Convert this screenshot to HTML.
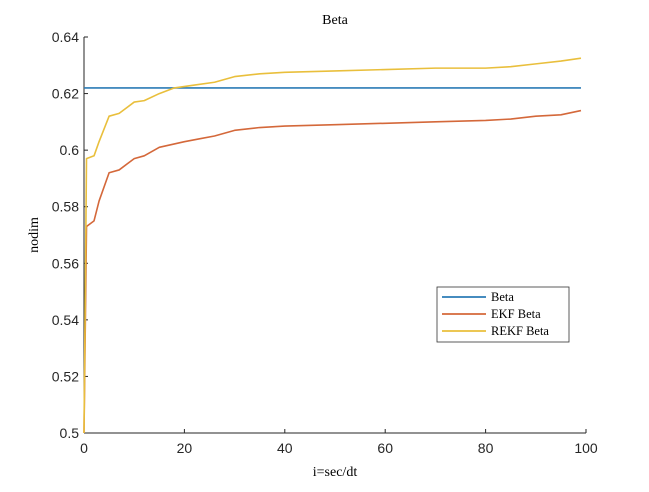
<!DOCTYPE html>
<html><head><meta charset="utf-8"><style>body{margin:0;background:#fff}</style></head>
<body>
<svg id="chart" width="649" height="487" xmlns="http://www.w3.org/2000/svg" font-family="Liberation Sans, sans-serif">
<rect width="649" height="487" fill="#fff"/>
<g id="axes"></g>
<g id="series"></g>
<text x="335" y="24" text-anchor="middle" font-family="Liberation Serif, serif" font-size="14">Beta</text>
<text x="335" y="476" text-anchor="middle" font-family="Liberation Serif, serif" font-size="14">i=sec/dt</text>
<text transform="translate(38,235) rotate(-90)" text-anchor="middle" font-family="Liberation Serif, serif" font-size="14">nodim</text>
<g>
<rect x="437" y="287" width="132" height="55" fill="#fff" stroke="#333" stroke-width="0.8"/>
<line x1="442" y1="297" x2="486" y2="297" stroke="#2c7bb6" stroke-width="1.8"/>
<text x="491" y="301" font-family="Liberation Serif, serif" font-size="12.5">Beta</text>
<line x1="442" y1="314" x2="486" y2="314" stroke="#d4683a" stroke-width="1.8"/>
<text x="491" y="318" font-family="Liberation Serif, serif" font-size="12.5">EKF Beta</text>
<line x1="442" y1="331" x2="486" y2="331" stroke="#e9bf3c" stroke-width="1.8"/>
<text x="491" y="335" font-family="Liberation Serif, serif" font-size="12.5">REKF Beta</text>
</g>
</svg>
<script>
const xTicks=[0,20,40,60,80,100];
const yTicks=[0.5,0.52,0.54,0.56,0.58,0.6,0.62,0.64];
const yTickLabels=["0.5","0.52","0.54","0.56","0.58","0.6","0.62","0.64"];
const betaX=[0,99];
const betaY=[0.622,0.622];
const ekfX=[0,0.5,2,3,5,7,10,12,15,20,23,26,30,35,40,50,60,70,80,85,90,95,99];
const ekfY=[0.5,0.573,0.575,0.582,0.592,0.593,0.597,0.598,0.601,0.603,0.604,0.605,0.607,0.608,0.6085,0.609,0.6095,0.610,0.6105,0.611,0.612,0.6125,0.614];
const rekfX=[0,0.5,2,3,5,7,10,12,15,18,22,26,30,35,40,50,60,70,80,85,90,95,99];
const rekfY=[0.5,0.597,0.598,0.603,0.612,0.613,0.617,0.6175,0.620,0.622,0.623,0.624,0.626,0.627,0.6275,0.628,0.6285,0.629,0.629,0.6295,0.6305,0.6315,0.6325];
const X0=84,X1=586,Y0=433,Y1=37;
const sx=v=>X0+(v-0)/(100-0)*(X1-X0);
const sy=v=>Y0-(v-0.5)/(0.64-0.5)*(Y0-Y1);
const NS="http://www.w3.org/2000/svg";
const ax=document.getElementById('axes');
function mk(t,a,p){const e=document.createElementNS(NS,t);for(const k in a)e.setAttribute(k,a[k]);p.appendChild(e);return e;}
let e=mk('line',{x1:X0,y1:Y0,x2:X1,y2:Y0,stroke:'#262626','stroke-width':1},ax);


e=mk('line',{x1:X0,y1:Y0,x2:X0,y2:Y1,stroke:'#262626','stroke-width':1},ax);


xTicks.forEach(t=>{
 mk('line',{x1:sx(t),y1:Y0,x2:sx(t),y2:Y0-4,stroke:'#262626'},ax);
 const tx=mk('text',{x:sx(t),y:Y0+20,'text-anchor':'middle','font-size':14,fill:'#262626'},ax);
 tx.textContent=t;
 
 
});
yTicks.forEach((t,i)=>{
 mk('line',{x1:X0,y1:sy(t),x2:X0+4,y2:sy(t),stroke:'#262626'},ax);
 const tx=mk('text',{x:X0-5,y:sy(t)+5,'text-anchor':'end','font-size':14,fill:'#262626'},ax);
 tx.textContent=yTickLabels[i];
 
 
});
const sg=document.getElementById('series');
function line(xs,ys,c,n){
 const p=mk('polyline',{points:xs.map((x,i)=>sx(x)+','+sy(ys[i])).join(' '),fill:'none',stroke:c,'stroke-width':1.6,'stroke-linejoin':'round'},sg);
 
 
}
line(betaX,betaY,'#2c7bb6','beta-line');
line(ekfX,ekfY,'#d4683a','ekf-beta-line');
line(rekfX,rekfY,'#e9bf3c','rekf-beta-line');
</script>
</body></html>
